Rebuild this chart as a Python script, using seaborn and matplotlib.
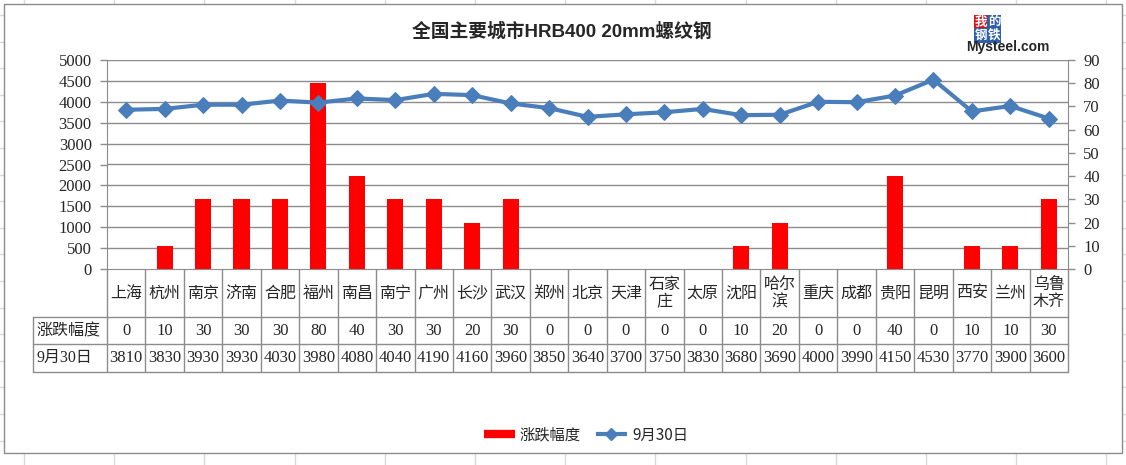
import numpy as np
import matplotlib
matplotlib.use("Agg")
import matplotlib.pyplot as plt
import seaborn as sns
from matplotlib.lines import Line2D
from matplotlib.patches import Rectangle
from matplotlib.transforms import blended_transform_factory

cities = ["上海", "杭州", "南京", "济南", "合肥", "福州", "南昌", "南宁", "广州", "长沙",
          "武汉", "郑州", "北京", "天津", "石家庄", "太原", "沈阳", "哈尔滨", "重庆", "成都",
          "贵阳", "昆明", "西安", "兰州", "乌鲁木齐"]
change = [0, 10, 30, 30, 30, 80, 40, 30, 30, 20, 30, 0, 0, 0, 0, 0, 10, 20, 0, 0, 40, 0, 10, 10, 30]
price = [3810, 3830, 3930, 3930, 4030, 3980, 4080, 4040, 4190, 4160, 3960, 3850, 3640, 3700,
         3750, 3830, 3680, 3690, 4000, 3990, 4150, 4530, 3770, 3900, 3600]
price_ticks = list(range(0, 5001, 500))
change_ticks = list(range(0, 91, 10))
change_name = "涨跌幅度"
price_name = "9月30日"
title = "全国主要城市HRB400 20mm螺纹钢"

BLUE = "#4A7EBB"
RED = "#FF0000"
GRAY = "#8C8C8C"
W, H = 1126, 465

sns.set_style("white")
plt.rcParams["font.family"] = ["Liberation Serif", "Noto Sans CJK SC", "DejaVu Sans"]
CJK = ["Noto Sans CJK SC", "DejaVu Sans"]


def fx(px):
    return px / W


def fy(py):
    return 1 - py / H


fig = plt.figure(figsize=(W / 100, H / 100), dpi=100)

# spreadsheet grid behind the chart object
for x in np.arange(24, W, 90.2):
    fig.add_artist(Line2D([fx(x)] * 2, [0, 1], color="#D9D9D9", lw=1, zorder=-3))
for y in np.arange(15, H, 26.6):
    fig.add_artist(Line2D([0, 1], [fy(y)] * 2, color="#D9D9D9", lw=1, zorder=-3))
fig.add_artist(Rectangle((fx(4), fy(453)), fx(1122) - fx(4), fy(4) - fy(453),
                         facecolor="white", edgecolor=GRAY, lw=1, zorder=-2))

n = len(cities)
pos = np.arange(n)

ax_bar = fig.add_axes([fx(107), fy(269), fx(1068) - fx(107), fy(60) - fy(269)])
ax_line = ax_bar.twinx()

sns.barplot(x=pos, y=change, color=RED, saturation=1, width=0.42, linewidth=0, ax=ax_bar, zorder=2)
sns.lineplot(x=pos, y=price, color=BLUE, linewidth=3, marker="D", markersize=8,
             markeredgecolor=BLUE, ax=ax_line, zorder=3)

ax_bar.set_xlim(-0.5, n - 0.5)
ax_bar.set_ylim(0, 90)
ax_line.set_ylim(0, 5000)
ax_bar.set_xticks([])
ax_bar.set_xlabel("")
ax_bar.set_ylabel("")
ax_line.set_ylabel("")

# gridlines follow the left (price) scale but sit behind the bars
trans = blended_transform_factory(ax_bar.transAxes, ax_line.transData)
for v in price_ticks[1:]:
    ax_bar.plot([0, 1], [v, v], color=GRAY, lw=1, transform=trans, zorder=0)

ax_bar.yaxis.tick_right()
ax_bar.set_yticks(change_ticks)
ax_line.yaxis.tick_left()
ax_line.set_yticks(price_ticks)
for a in (ax_bar, ax_line):
    a.tick_params(axis="y", direction="out", length=5, width=1, color=GRAY, labelsize=12, pad=6)
    for s in a.spines.values():
        s.set_visible(False)
for s in ("left", "right", "bottom"):
    ax_bar.spines[s].set_visible(True)
    ax_bar.spines[s].set_color(GRAY)

# data table under the plot
tab = fig.add_axes([fx(107), fy(372), fx(1068) - fx(107), fy(269) - fy(372)])
tab.set_xlim(-0.5, n - 0.5)
tab.set_ylim(103, 0)
tab.axis("off")
lab_left = -0.5 - 74 / 38.44
rows = [0, 48, 75, 103]
for k in range(n + 1):
    tab.plot([k - 0.5, k - 0.5], [0, 103], color=GRAY, lw=1, clip_on=False)
tab.plot([lab_left, lab_left], [48, 103], color=GRAY, lw=1, clip_on=False)
for r in rows[1:]:
    tab.plot([lab_left, n - 0.5], [r, r], color=GRAY, lw=1, clip_on=False)

for i, c in enumerate(cities):
    lab = c if len(c) <= 2 else c[:2] + "\n" + c[2:]
    tab.text(i, 24, lab, ha="center", va="center", fontsize=11.5, family=CJK,
             linespacing=1.05, multialignment="center")
    tab.text(i, 61.5, str(change[i]), ha="center", va="center", fontsize=12)
    tab.text(i, 89, str(price[i]), ha="center", va="center", fontsize=12)
tab.text(lab_left + 0.1, 61.5, change_name, ha="left", va="center", fontsize=11.5, family=CJK)
tab.text(lab_left + 0.1, 89, price_name, ha="left", va="center", fontsize=11.5)

fig.text(fx(562), fy(32), title, ha="center", va="center", fontsize=13.5,
         fontweight="bold", family=["Liberation Sans", "Noto Sans CJK SC"])

# Mysteel logo
for ch, x, y, col in [("我", 981, 22, "#D7141A"), ("的", 994, 22, "#2F5FA8"),
                      ("钢", 981, 35.5, "#2F5FA8"), ("铁", 994, 35.5, "#2F5FA8")]:
    fig.text(fx(x), fy(y), ch, ha="center", va="center", fontsize=9, color="white",
             fontweight="bold", family=CJK,
             bbox=dict(facecolor=col, edgecolor="none", pad=0.5))
fig.text(fx(1008), fy(47.5), "Mysteel.com", ha="center", va="center", fontsize=10,
         fontweight="bold", family=["Liberation Sans"])

handles = [Line2D([0], [0], color=RED, lw=6, solid_capstyle="butt"),
           Line2D([0], [0], color=BLUE, lw=3, marker="D", markersize=6, solid_capstyle="butt")]
fig.legend(handles, [change_name, price_name], loc="center", bbox_to_anchor=(fx(586), fy(435)),
           ncol=2, frameon=False, handlelength=2.0, columnspacing=1.0, handletextpad=0.35,
           prop={"family": CJK, "size": 11})

fig.savefig("out.png", dpi=100)
plt.close(fig)
